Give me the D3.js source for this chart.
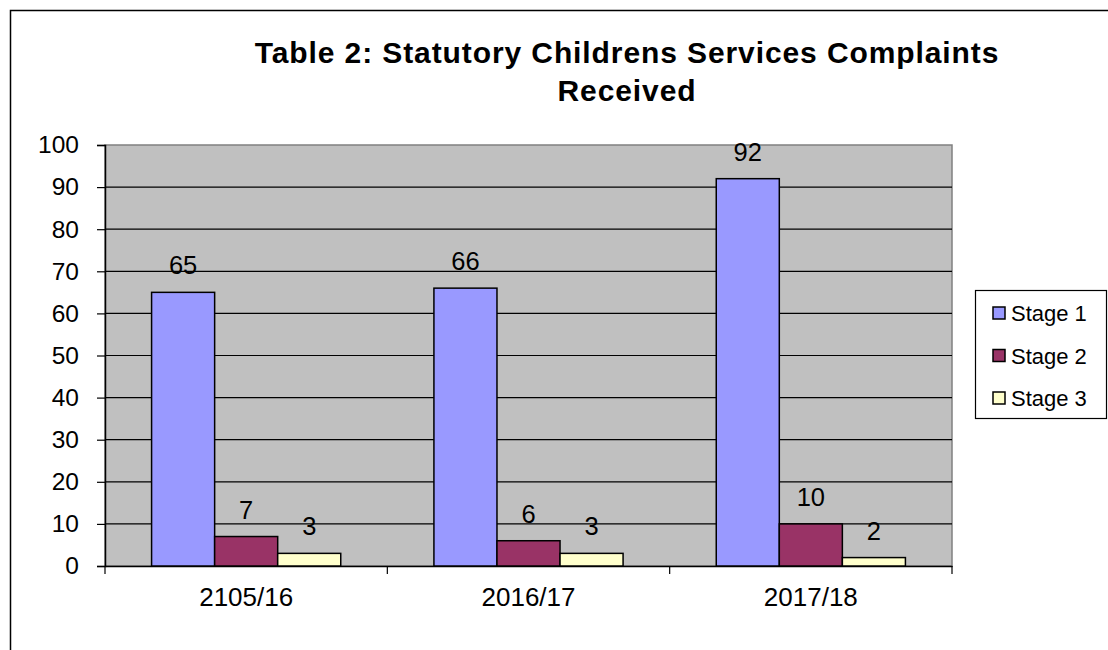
<!DOCTYPE html>
<html>
<head>
<meta charset="utf-8">
<script src="https://cdn.jsdelivr.net/npm/d3@7"></script>
<style>
body { margin: 0; background: #fff; }
text { font-family: Arial, "Liberation Sans", sans-serif; }
</style>
</head>
<body>
<div id="chart"></div>
<script>
var categories = ["2105/16", "2016/17", "2017/18"];
var seriesNames = ["Stage 1", "Stage 2", "Stage 3"];
var stage1 = [65, 66, 92];
var stage2 = [7, 6, 10];
var stage3 = [3, 3, 2];
var yTicks = [0, 10, 20, 30, 40, 50, 60, 70, 80, 90, 100];
var colors = ["#9999FF", "#993366", "#FFFFCC"];

var W = 1108, H = 650;
var plot = {left: 105, top: 145, right: 952, bottom: 566};
var fontFam = "Arial, 'Liberation Sans', sans-serif";

var svg = d3.select("#chart").append("svg")
  .attr("width", W).attr("height", H);

// outer chart frame
svg.append("rect")
  .attr("x", 10.5).attr("y", 10.5)
  .attr("width", W + 20).attr("height", H + 20)
  .attr("fill", "#fff").attr("stroke", "#000").attr("stroke-width", 1.5);

var data = categories.map(function(c, i) {
  return {cat: c, vals: [stage1[i], stage2[i], stage3[i]]};
});

var x0 = d3.scaleBand().domain(categories).range([plot.left, plot.right]).padding(0);
var bw = x0.bandwidth();
var x1 = d3.scaleBand().domain(d3.range(seriesNames.length))
  .range([bw * 0.165, bw * 0.835]).padding(0);
var y = d3.scaleLinear().domain([0, 100]).range([plot.bottom, plot.top]);

// plot background
svg.append("rect")
  .attr("x", plot.left).attr("y", plot.top)
  .attr("width", plot.right - plot.left).attr("height", plot.bottom - plot.top)
  .attr("fill", "#C0C0C0").attr("stroke", "#808080").attr("stroke-width", 1.5);

// gridlines
svg.append("g").selectAll("line")
  .data(yTicks.filter(function(t) { return t > 0 && t < 100; }))
  .enter().append("line")
  .attr("x1", plot.left).attr("x2", plot.right)
  .attr("y1", function(d) { return y(d); }).attr("y2", function(d) { return y(d); })
  .attr("stroke", "#000").attr("stroke-width", 1.2);

// y axis
var yAxis = svg.append("g")
  .attr("transform", "translate(" + plot.left + ",0)")
  .call(d3.axisLeft(y).tickValues(yTicks).tickSize(8).tickPadding(18));
yAxis.select(".domain").attr("stroke", "#000").attr("stroke-width", 1.5);
yAxis.selectAll(".tick line").attr("stroke", "#000").attr("stroke-width", 1.2);
yAxis.selectAll("text").attr("font-size", 24.5).attr("fill", "#000")
  .attr("font-family", fontFam);

// x axis
var xAxis = svg.append("g")
  .attr("transform", "translate(0," + plot.bottom + ")")
  .call(d3.axisBottom(x0).tickSize(0).tickPadding(22));
xAxis.select(".domain").attr("stroke", "#000").attr("stroke-width", 1.5);
xAxis.selectAll("text").attr("font-size", 26).attr("fill", "#000")
  .attr("font-family", fontFam);
// tick marks at category boundaries
xAxis.selectAll(".bound")
  .data(categories.concat(["end"]))
  .enter().append("line")
  .attr("class", "bound")
  .attr("x1", function(d, i) { return plot.left + i * bw; })
  .attr("x2", function(d, i) { return plot.left + i * bw; })
  .attr("y1", 0).attr("y2", 8)
  .attr("stroke", "#000").attr("stroke-width", 1.2);

// bars
var groups = svg.append("g").selectAll("g")
  .data(data).enter().append("g")
  .attr("transform", function(d) { return "translate(" + x0(d.cat) + ",0)"; });

groups.selectAll("rect")
  .data(function(d) { return d.vals; })
  .enter().append("rect")
  .attr("x", function(d, i) { return x1(i); })
  .attr("y", function(d) { return y(d); })
  .attr("width", x1.bandwidth())
  .attr("height", function(d) { return y(0) - y(d); })
  .attr("fill", function(d, i) { return colors[i]; })
  .attr("stroke", "#000").attr("stroke-width", 1.5);

groups.selectAll("text")
  .data(function(d) { return d.vals; })
  .enter().append("text")
  .attr("x", function(d, i) { return x1(i) + x1.bandwidth() / 2; })
  .attr("y", function(d) { return y(d) - 18; })
  .attr("text-anchor", "middle")
  .attr("font-size", 25.5)
  .text(function(d) { return d; });

// title
var title = svg.append("text")
  .attr("x", 627).attr("text-anchor", "middle")
  .attr("font-size", 30).attr("font-weight", "bold")
  .attr("letter-spacing", 0.9);
title.append("tspan").attr("x", 627).attr("y", 63).text("Table 2: Statutory Childrens Services Complaints");
title.append("tspan").attr("x", 627).attr("y", 101).text("Received");

// legend
var legend = svg.append("g");
legend.append("rect")
  .attr("x", 975.5).attr("y", 290.5).attr("width", 131).attr("height", 128)
  .attr("fill", "#fff").attr("stroke", "#000").attr("stroke-width", 1.2);
var items = legend.selectAll("g.item")
  .data(seriesNames).enter().append("g")
  .attr("class", "item")
  .attr("transform", function(d, i) { return "translate(993," + (313 + i * 42.5) + ")"; });
items.append("rect")
  .attr("x", 0).attr("y", -6).attr("width", 12).attr("height", 12)
  .attr("fill", function(d, i) { return colors[i]; })
  .attr("stroke", "#000").attr("stroke-width", 1.5);
items.append("text")
  .attr("x", 18).attr("y", 8)
  .attr("font-size", 22)
  .text(function(d) { return d; });
</script>
</body>
</html>
